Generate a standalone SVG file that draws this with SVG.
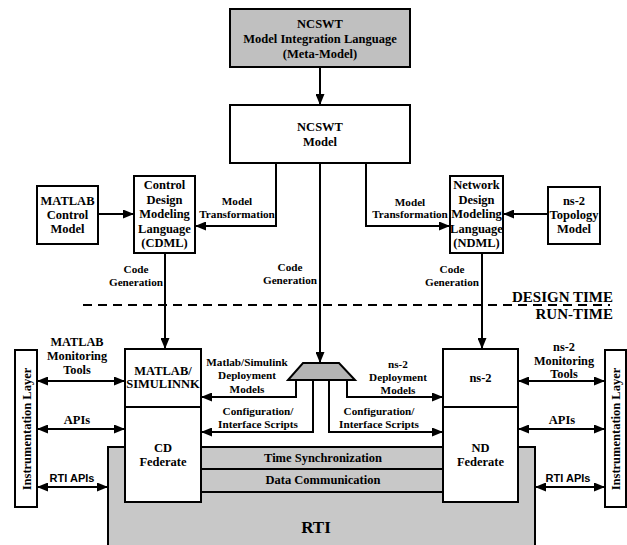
<svg xmlns="http://www.w3.org/2000/svg" width="627" height="545" viewBox="0 0 627 545">
<defs>
<marker id="ah" markerUnits="userSpaceOnUse" markerWidth="11" markerHeight="9" refX="11" refY="4.5" orient="auto-start-reverse"><path d="M0,0 L11,4.5 L0,9 z" fill="#000"/></marker>
<style>
.box{fill:#fff;stroke:#000;stroke-width:2}
.t{font-family:"Liberation Serif","Times New Roman",serif;font-weight:bold;font-size:12.5px;text-anchor:middle;fill:#000}
.s{font-size:11.2px}
.c{fill:none;stroke:#000;stroke-width:2}
.a{marker-end:url(#ah)}
.d{marker-start:url(#ah);marker-end:url(#ah)}
</style>
</defs>
<rect width="627" height="545" fill="#fff"/>

<g id="rti">
<rect x="108" y="447" width="427" height="110" fill="#c8c8c8" stroke="#000" stroke-width="2"/>
<line x1="201" y1="469" x2="442" y2="469" stroke="#000" stroke-width="2"/>
<line x1="201" y1="492" x2="442" y2="492" stroke="#000" stroke-width="2"/>
<text class="t" x="323" y="462">Time Synchronization</text>
<text class="t" x="323" y="484">Data Communication</text>
<text class="t" x="316" y="533" style="font-size:17px">RTI</text>
</g>

<g id="meta">
<rect x="230" y="9" width="180" height="58" fill="#c0c0c0" stroke="#000" stroke-width="2"/>
<text class="t" x="320" y="28">NCSWT</text>
<text class="t" x="320" y="43">Model Integration Language</text>
<text class="t" x="320" y="58">(Meta-Model)</text>
</g>

<g id="model">
<rect class="box" x="230" y="105" width="180" height="58"/>
<text class="t" x="320" y="131">NCSWT</text>
<text class="t" x="320" y="146">Model</text>
</g>

<g id="matlabcontrol">
<rect class="box" x="37" y="186" width="61" height="58"/>
<text class="t" x="67.5" y="205">MATLAB</text>
<text class="t" x="67.5" y="219">Control</text>
<text class="t" x="67.5" y="233">Model</text>
</g>

<g id="cdml">
<rect class="box" x="134" y="176" width="61" height="77"/>
<text class="t" x="164.5" y="189">Control</text>
<text class="t" x="164.5" y="204">Design</text>
<text class="t" x="164.5" y="218">Modeling</text>
<text class="t" x="164.5" y="233">Language</text>
<text class="t" x="164.5" y="247">(CDML)</text>
</g>

<g id="ndml">
<rect class="box" x="450" y="176" width="53" height="77"/>
<text class="t" x="476.5" y="189">Network</text>
<text class="t" x="476.5" y="204">Design</text>
<text class="t" x="476.5" y="218">Modeling</text>
<text class="t" x="476.5" y="233">Language</text>
<text class="t" x="476.5" y="247">(NDML)</text>
</g>

<g id="ns2topology">
<rect class="box" x="548" y="187" width="52" height="57"/>
<text class="t" x="574" y="205">ns-2</text>
<text class="t" x="574" y="219">Topology</text>
<text class="t" x="574" y="233">Model</text>
</g>

<g id="simulink">
<rect class="box" x="125" y="349" width="76" height="58"/>
<text class="t" x="163" y="375">MATLAB/</text>
<text class="t" x="163" y="388">SIMULINNK</text>
</g>

<g id="cdfederate">
<rect class="box" x="125" y="407" width="76" height="95"/>
<text class="t" x="163" y="452">CD</text>
<text class="t" x="163" y="466">Federate</text>
</g>

<g id="ns2">
<rect class="box" x="443" y="349" width="75" height="58"/>
<text class="t" x="480.5" y="382">ns-2</text>
</g>

<g id="ndfederate">
<rect class="box" x="443" y="407" width="75" height="95"/>
<text class="t" x="480.5" y="452">ND</text>
<text class="t" x="480.5" y="466">Federate</text>
</g>

<g id="instr-left">
<rect class="box" x="15" y="350" width="22" height="157"/>
<text class="t" transform="translate(30.5,429) rotate(-90)">Instrumentation Layer</text>
</g>

<g id="instr-right">
<rect class="box" x="605" y="350" width="21" height="157"/>
<text class="t" transform="translate(620,429) rotate(-90)">Instrumentation Layer</text>
</g>

<g id="splitter">
<path d="M303,363 L339,363 L355,380 L288,380 z" fill="#b4b4b4" stroke="#000" stroke-width="2"/>
</g>

<g id="connectors">
<line class="c a" x1="320" y1="67" x2="320" y2="105"/>
<polyline class="c a" points="276,163 276,226 195,226"/>
<polyline class="c a" points="366,163 366,226 450,226"/>
<line class="c a" x1="320" y1="163" x2="320" y2="363"/>
<line class="c a" x1="98" y1="214" x2="134" y2="214"/>
<line class="c a" x1="548" y1="214" x2="503" y2="214"/>
<line class="c a" x1="165" y1="253" x2="165" y2="349"/>
<line class="c a" x1="482" y1="253" x2="482" y2="349"/>
<polyline class="c a" points="296,380 296,397 201,397"/>
<polyline class="c a" points="313,380 313,432 201,432"/>
<polyline class="c a" points="329,380 329,432 443,432"/>
<polyline class="c a" points="347,380 347,397 443,397"/>
<line class="c d" x1="37" y1="381" x2="125" y2="381"/>
<line class="c d" x1="37" y1="429" x2="125" y2="429"/>
<line class="c d" x1="37" y1="487" x2="108" y2="487"/>
<line class="c d" x1="518" y1="381" x2="605" y2="381"/>
<line class="c d" x1="518" y1="429" x2="605" y2="429"/>
<line class="c d" x1="535" y1="487" x2="605" y2="487"/>
<line x1="83" y1="305" x2="610" y2="305" stroke="#000" stroke-width="2" stroke-dasharray="9,6"/>
</g>

<g id="labels">
<text class="t s" x="237" y="205">Model</text>
<text class="t s" x="237" y="218">Transformation</text>
<text class="t s" x="410" y="206">Model</text>
<text class="t s" x="410" y="218">Transformation</text>
<text class="t s" x="136" y="273">Code</text>
<text class="t s" x="136" y="286">Generation</text>
<text class="t s" x="290" y="271">Code</text>
<text class="t s" x="290" y="284">Generation</text>
<text class="t s" x="452" y="273">Code</text>
<text class="t s" x="452" y="286">Generation</text>
<text class="t" x="613" y="302" style="font-size:15px;text-anchor:end">DESIGN TIME</text>
<text class="t" x="613" y="319" style="font-size:15px;text-anchor:end">RUN-TIME</text>
<text class="t" x="77" y="346" style="font-size:12.3px">MATLAB</text>
<text class="t" x="77" y="360" style="font-size:12.3px">Monitoring</text>
<text class="t" x="77" y="374" style="font-size:12.3px">Tools</text>
<text class="t" x="77" y="424">APIs</text>
<text class="t" x="72" y="482" style="font-family:'Liberation Sans',Arial,sans-serif;font-size:11px">RTI APIs</text>
<text class="t" x="564" y="351" style="font-size:12.3px">ns-2</text>
<text class="t" x="564" y="365" style="font-size:12.3px">Monitoring</text>
<text class="t" x="564" y="378" style="font-size:12.3px">Tools</text>
<text class="t" x="562" y="424">APIs</text>
<text class="t" x="568" y="482" style="font-family:'Liberation Sans',Arial,sans-serif;font-size:11px">RTI APIs</text>
<text class="t s" x="247" y="366">Matlab/Simulink</text>
<text class="t s" x="247" y="379">Deployment</text>
<text class="t s" x="247" y="393">Models</text>
<text class="t s" x="398" y="368">ns-2</text>
<text class="t s" x="398" y="381">Deployment</text>
<text class="t s" x="398" y="394">Models</text>
<text class="t s" x="258" y="415">Configuration/</text>
<text class="t s" x="258" y="428">Interface Scripts</text>
<text class="t s" x="379" y="415">Configuration/</text>
<text class="t s" x="379" y="428">Interface Scripts</text>
</g>
</svg>
